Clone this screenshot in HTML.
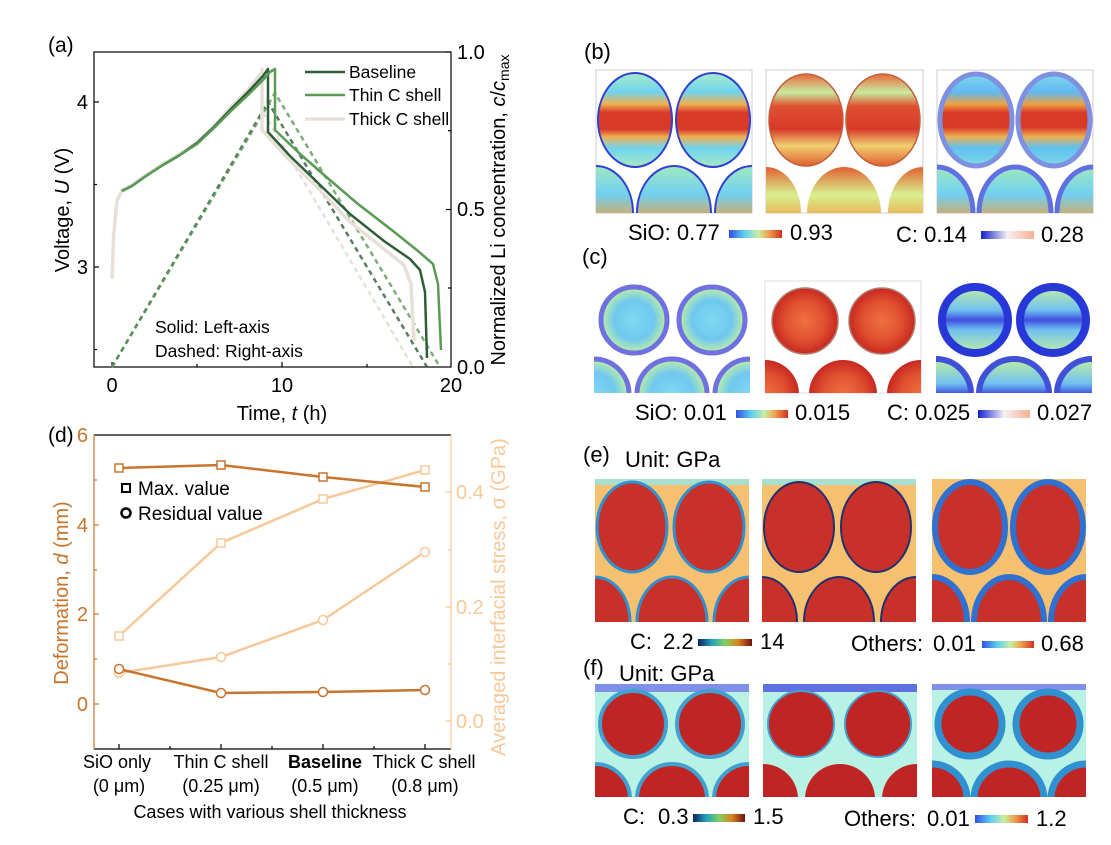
<!DOCTYPE html>
<html><head><meta charset="utf-8"><style>
html,body{margin:0;padding:0;background:#fff;}
svg{display:block;font-family:"Liberation Sans",sans-serif;}
</style></head><body>
<svg width="1111" height="845" viewBox="0 0 1111 845" xmlns="http://www.w3.org/2000/svg">
<defs>
<linearGradient id="jet" x1="0" x2="1" y1="0" y2="0">
<stop offset="0" stop-color="#3050e0"/><stop offset="0.3" stop-color="#60d0f0"/><stop offset="0.55" stop-color="#c8f0a0"/><stop offset="0.75" stop-color="#f0a050"/><stop offset="1" stop-color="#d03020"/></linearGradient>
<linearGradient id="bw" x1="0" x2="1" y1="0" y2="0">
<stop offset="0" stop-color="#1020d0"/><stop offset="0.5" stop-color="#f4f0f4"/><stop offset="1" stop-color="#f8b090"/></linearGradient>
<linearGradient id="turbo" x1="0" x2="1" y1="0" y2="0">
<stop offset="0" stop-color="#102060"/><stop offset="0.25" stop-color="#20a0c0"/><stop offset="0.5" stop-color="#80d060"/><stop offset="0.75" stop-color="#e08020"/><stop offset="1" stop-color="#701010"/></linearGradient>
<linearGradient id="gb1" x1="0" x2="0" y1="0" y2="1">
<stop offset="0" stop-color="#a8ecc8"/><stop offset="0.2" stop-color="#70d4f0"/><stop offset="0.33" stop-color="#f0b050"/><stop offset="0.42" stop-color="#d83a2a"/><stop offset="0.6" stop-color="#d83a2a"/><stop offset="0.68" stop-color="#f0b050"/><stop offset="0.8" stop-color="#70d4f0"/><stop offset="1" stop-color="#a8e8c0"/></linearGradient>
<linearGradient id="gb2" x1="0" x2="0" y1="0" y2="1">
<stop offset="0" stop-color="#e86838"/><stop offset="0.2" stop-color="#c8eca0"/><stop offset="0.35" stop-color="#e05030"/><stop offset="0.6" stop-color="#d83a2a"/><stop offset="0.78" stop-color="#f0d070"/><stop offset="1" stop-color="#e06030"/></linearGradient>
<linearGradient id="gb3" x1="0" x2="0" y1="0" y2="1">
<stop offset="0" stop-color="#80d8f0"/><stop offset="0.2" stop-color="#60b8f0"/><stop offset="0.33" stop-color="#f0a040"/><stop offset="0.42" stop-color="#d83a2a"/><stop offset="0.58" stop-color="#d83a2a"/><stop offset="0.68" stop-color="#f0b050"/><stop offset="0.8" stop-color="#60c0f0"/><stop offset="1" stop-color="#80d8e8"/></linearGradient>
<radialGradient id="gc1"><stop offset="0" stop-color="#80d8f0"/><stop offset="0.6" stop-color="#70c8f0"/><stop offset="1" stop-color="#c0f0a0"/></radialGradient>
<radialGradient id="gc2"><stop offset="0" stop-color="#f07040"/><stop offset="0.6" stop-color="#e05030"/><stop offset="1" stop-color="#c82820"/></radialGradient>
<linearGradient id="gc3" x1="0" x2="0" y1="0" y2="1"><stop offset="0" stop-color="#c0f0a0"/><stop offset="0.35" stop-color="#70c0f0"/><stop offset="0.5" stop-color="#4050e0"/><stop offset="0.65" stop-color="#70c0f0"/><stop offset="1" stop-color="#c0f0a0"/></linearGradient>
<linearGradient id="gbot" x1="0" x2="0" y1="0" y2="1"><stop offset="0" stop-color="#a0e8c0"/><stop offset="0.3" stop-color="#70d0f0"/><stop offset="0.6" stop-color="#f0a040"/><stop offset="0.8" stop-color="#d83a2a"/><stop offset="1" stop-color="#d83a2a"/></linearGradient>
<linearGradient id="gbot2" x1="0" x2="0" y1="0" y2="1"><stop offset="0" stop-color="#e06030"/><stop offset="0.3" stop-color="#d8f090"/><stop offset="0.6" stop-color="#f0a040"/><stop offset="0.8" stop-color="#d83a2a"/><stop offset="1" stop-color="#d83a2a"/></linearGradient>
</defs>

<!-- ============ Panel (a) ============ -->
<text x="48" y="52" font-size="21">(a)</text>
<g stroke="#000" stroke-width="1.2" fill="none">
<rect x="94" y="52" width="357" height="315"/>
<line x1="94" y1="102" x2="99" y2="102"/><line x1="94" y1="267" x2="99" y2="267"/>
<line x1="94" y1="184.5" x2="97" y2="184.5"/><line x1="94" y1="349.5" x2="97" y2="349.5"/>
<line x1="446" y1="52" x2="451" y2="52"/><line x1="446" y1="209.5" x2="451" y2="209.5"/>
<line x1="448" y1="130.7" x2="451" y2="130.7"/><line x1="448" y1="288" x2="451" y2="288"/>
<line x1="112" y1="367" x2="112" y2="362"/><line x1="282" y1="367" x2="282" y2="362"/>
<line x1="197" y1="367" x2="197" y2="364"/><line x1="367" y1="367" x2="367" y2="364"/>
</g>
<g font-size="20" fill="#000">
<text x="88" y="109" text-anchor="end">4</text>
<text x="88" y="274" text-anchor="end">3</text>
<text x="457" y="59">1.0</text><text x="457" y="216">0.5</text><text x="457" y="374">0.0</text>
<text x="112" y="392" text-anchor="middle">0</text>
<text x="282" y="392" text-anchor="middle">10</text>
<text x="451" y="392" text-anchor="middle">20</text>
<text x="282" y="420" text-anchor="middle">Time, <tspan font-style="italic">t</tspan> (h)</text>
<text transform="translate(69,210) rotate(-90)" text-anchor="middle">Voltage, <tspan font-style="italic">U</tspan> (V)</text>
<text transform="translate(505,210) rotate(-90)" text-anchor="middle">Normalized Li concentration, <tspan font-style="italic">c</tspan>/<tspan font-style="italic">c</tspan><tspan font-size="14" dy="4">max</tspan></text>
</g>
<g fill="none" stroke-width="2.5" stroke-dasharray="5,4">
<polyline stroke="#e8e0d8" points="112,367 263,112 413,367"/>
<polyline stroke="#2f5d3a" stroke-opacity="0.8" points="112,367 268,102 427,367"/>
<polyline stroke="#5a9a55" stroke-opacity="0.8" points="112,367 275,93 440,367"/>
</g>
<g fill="none" stroke-width="2.5" stroke-linejoin="round">
<polyline stroke="#e8e0d8" stroke-width="3.5" points="112,279 113.7,234 117,201 122,190 132,185 146,175 163,164 180,154 197,142 214,126 231,107 248,90 262,72 262,69 262,130 290,161 316,186 350,222 384,249 404,265 411,284 414,341"/>
<polyline stroke="#2f5d3a" points="122,191 132,186 146,176 163,165 180,155 197,143 214,127 231,109 248,92 263,76 268,69 268,132 290,156 316,181 350,214 384,241 410,259 420,270 425,292 427,358"/>
<polyline stroke="#5a9a55" points="122,191 132,186 146,176 163,165 180,155 197,144 214,128 231,111 248,95 263,80 270,72 275,69 275,130 299,153 324,175 358,204 393,231 418,251 433,264 438,284 441,350"/>
</g>
<line x1="305" y1="72" x2="345" y2="72" stroke="#2f5d3a" stroke-width="2.5"/>
<line x1="305" y1="95" x2="345" y2="95" stroke="#5a9a55" stroke-width="2.5"/>
<line x1="305" y1="119" x2="345" y2="119" stroke="#e8e0d8" stroke-width="3.5"/>
<g font-size="17.5"><text x="349" y="78">Baseline</text><text x="349" y="101">Thin C shell</text><text x="349" y="125">Thick C shell</text>
<text x="155" y="333">Solid: Left-axis</text><text x="155" y="357">Dashed: Right-axis</text></g>

<!-- ============ Panel (d) ============ -->
<text x="48" y="442" font-size="21">(d)</text>
<line x1="94" y1="435" x2="451" y2="435" stroke="#000" stroke-width="1.2"/>
<line x1="94" y1="749" x2="451" y2="749" stroke="#000" stroke-width="1.2"/>
<g stroke="#c8742c" stroke-width="1.2"><line x1="94" y1="435" x2="94" y2="749"/>
<line x1="94" y1="525" x2="99" y2="525"/><line x1="94" y1="614" x2="99" y2="614"/><line x1="94" y1="704" x2="99" y2="704"/>
<line x1="94" y1="480" x2="97" y2="480"/><line x1="94" y1="570" x2="97" y2="570"/><line x1="94" y1="659" x2="97" y2="659"/></g>
<g stroke="#f8c898" stroke-width="1.2"><line x1="451" y1="435" x2="451" y2="749"/>
<line x1="446" y1="492" x2="451" y2="492"/><line x1="446" y1="607" x2="451" y2="607"/><line x1="446" y1="721" x2="451" y2="721"/>
<line x1="448" y1="550" x2="451" y2="550"/><line x1="448" y1="664" x2="451" y2="664"/></g>
<g stroke="#000" stroke-width="1.2"><line x1="119" y1="749" x2="119" y2="744"/><line x1="221" y1="749" x2="221" y2="744"/><line x1="323" y1="749" x2="323" y2="744"/><line x1="425" y1="749" x2="425" y2="744"/>
<line x1="170" y1="749" x2="170" y2="746"/><line x1="272" y1="749" x2="272" y2="746"/><line x1="374" y1="749" x2="374" y2="746"/></g>
<g font-size="20" fill="#c8742c">
<text x="88" y="442" text-anchor="end">6</text><text x="88" y="532" text-anchor="end">4</text>
<text x="88" y="621" text-anchor="end">2</text><text x="88" y="711" text-anchor="end">0</text>
<text transform="translate(68,593) rotate(-90)" text-anchor="middle">Deformation, <tspan font-style="italic">d</tspan> (mm)</text>
</g>
<g font-size="20" fill="#f8c898">
<text x="456" y="499">0.4</text><text x="456" y="614">0.2</text><text x="456" y="728">0.0</text>
<text transform="translate(505,597) rotate(-90)" text-anchor="middle">Averaged interfacial stress, σ (GPa)</text>
</g>
<g fill="none" stroke-width="2.5">
<polyline stroke="#f8c898" points="119,636 221,543 323,499 425,470"/>
<polyline stroke="#f8c898" points="119,673 221,657 323,620 425,552"/>
<polyline stroke="#c8742c" points="119,468 221,465 323,477 425,487"/>
<polyline stroke="#c8742c" points="119,669 221,693 323,692 425,690"/>
</g>
<g fill="#fff" stroke-width="1.5">
<g stroke="#f8c898"><rect x="115" y="632" width="8" height="8"/><rect x="217" y="539" width="8" height="8"/><rect x="319" y="495" width="8" height="8"/><rect x="421" y="466" width="8" height="8"/>
<circle cx="119" cy="673" r="4.5"/><circle cx="221" cy="657" r="4.5"/><circle cx="323" cy="620" r="4.5"/><circle cx="425" cy="552" r="4.5"/></g>
<g stroke="#c8742c"><rect x="115" y="464" width="8" height="8"/><rect x="217" y="461" width="8" height="8"/><rect x="319" y="473" width="8" height="8"/><rect x="421" y="483" width="8" height="8"/>
<circle cx="119" cy="669" r="4.5"/><circle cx="221" cy="693" r="4.5"/><circle cx="323" cy="692" r="4.5"/><circle cx="425" cy="690" r="4.5"/></g>
</g>
<rect x="122" y="484" width="8" height="8" fill="#fff" stroke="#000" stroke-width="2"/>
<circle cx="126" cy="513" r="4.5" fill="#fff" stroke="#000" stroke-width="2.5"/>
<g font-size="19"><text x="138" y="495">Max. value</text><text x="138" y="520">Residual value</text></g>
<g font-size="18" text-anchor="middle">
<text x="117" y="768">SiO only</text><text x="119" y="792">(0 μm)</text>
<text x="221" y="768">Thin C shell</text><text x="221" y="792">(0.25 μm)</text>
<text x="325" y="768" font-weight="bold">Baseline</text><text x="325" y="792">(0.5 μm)</text>
<text x="424" y="768">Thick C shell</text><text x="425" y="792">(0.8 μm)</text>
<text x="270" y="818">Cases with various shell thickness</text>
</g>

<!-- ============ Panel (b) ============ -->
<text x="584" y="59" font-size="22">(b)</text>
<g transform="translate(596,70)">
<rect width="156" height="143" fill="#fff" stroke="#ccc"/>
<ellipse cx="39" cy="50" rx="37" ry="47" fill="url(#gb1)" stroke="#3040d0" stroke-width="2"/>
<ellipse cx="117" cy="50" rx="37" ry="47" fill="url(#gb1)" stroke="#3040d0" stroke-width="2"/>
<svg width="156" height="143"><ellipse cx="0" cy="143" rx="37" ry="47" fill="url(#gbot)" stroke="#3040d0" stroke-width="2"/><ellipse cx="78" cy="143" rx="37" ry="47" fill="url(#gbot)" stroke="#3040d0" stroke-width="2"/><ellipse cx="156" cy="143" rx="37" ry="47" fill="url(#gbot)" stroke="#3040d0" stroke-width="2"/></svg>
</g>
<g transform="translate(766,70)">
<rect width="157" height="143" fill="#fff" stroke="#ccc"/>
<ellipse cx="40" cy="50" rx="37" ry="46" fill="url(#gb2)" stroke="#c06040" stroke-width="1.5"/>
<ellipse cx="117" cy="50" rx="37" ry="46" fill="url(#gb2)" stroke="#c06040" stroke-width="1.5"/>
<svg width="157" height="143"><ellipse cx="0" cy="143" rx="35" ry="46" fill="url(#gbot2)"/><ellipse cx="78" cy="143" rx="37" ry="46" fill="url(#gbot2)"/><ellipse cx="157" cy="143" rx="35" ry="46" fill="url(#gbot2)"/></svg>
</g>
<g transform="translate(937,70)">
<rect width="156" height="143" fill="#fff" stroke="#ccc"/>
<ellipse cx="39" cy="50" rx="36" ry="46" fill="url(#gb3)" stroke="#8090e0" stroke-width="5"/>
<ellipse cx="117" cy="50" rx="36" ry="46" fill="url(#gb3)" stroke="#8090e0" stroke-width="5"/>
<svg width="156" height="143"><ellipse cx="0" cy="143" rx="36" ry="46" fill="url(#gbot)" stroke="#6070e0" stroke-width="5"/><ellipse cx="78" cy="143" rx="36" ry="46" fill="url(#gbot)" stroke="#6070e0" stroke-width="5"/><ellipse cx="156" cy="143" rx="36" ry="46" fill="url(#gbot)" stroke="#6070e0" stroke-width="5"/></svg>
</g>
<g font-size="22">
<text x="628" y="240">SiO: 0.77</text><rect x="729" y="230" width="53" height="8" fill="url(#jet)"/><text x="790" y="240">0.93</text>
<text x="896" y="242">C: 0.14</text><rect x="981" y="231" width="53" height="8" fill="url(#bw)"/><text x="1041" y="242">0.28</text>
</g>

<!-- ============ Panel (c) ============ -->
<text x="582" y="264" font-size="22">(c)</text>
<g transform="translate(594,281)">
<rect width="156" height="112" fill="#fff"/>
<circle cx="40" cy="39" r="33" fill="url(#gc1)" stroke="#7070e0" stroke-width="5"/>
<circle cx="118" cy="39" r="33" fill="url(#gc1)" stroke="#7070e0" stroke-width="5"/>
<svg width="156" height="112"><circle cx="0" cy="113" r="35" fill="url(#gc1)" stroke="#7070e0" stroke-width="5"/><circle cx="78" cy="113" r="35" fill="url(#gc1)" stroke="#7070e0" stroke-width="5"/><circle cx="156" cy="113" r="35" fill="url(#gc1)" stroke="#7070e0" stroke-width="5"/></svg>
</g>
<g transform="translate(765,281)">
<rect width="156" height="112" fill="#fff" stroke="#ddd"/>
<circle cx="40" cy="40" r="33" fill="url(#gc2)" stroke="#b08070" stroke-width="1.5"/>
<circle cx="117" cy="40" r="33" fill="url(#gc2)" stroke="#b08070" stroke-width="1.5"/>
<svg width="156" height="112"><circle cx="0" cy="113" r="34" fill="url(#gc2)"/><circle cx="78" cy="113" r="34" fill="url(#gc2)"/><circle cx="156" cy="113" r="34" fill="url(#gc2)"/></svg>
</g>
<g transform="translate(936,281)">
<rect width="156" height="112" fill="#fff"/>
<circle cx="39" cy="39" r="33" fill="url(#gc3)" stroke="#2838d8" stroke-width="8"/>
<circle cx="117" cy="39" r="33" fill="url(#gc3)" stroke="#2838d8" stroke-width="8"/>
<svg width="156" height="112"><circle cx="0" cy="113" r="35" fill="url(#gc3)" stroke="#4050d8" stroke-width="6"/><circle cx="78" cy="113" r="35" fill="url(#gc3)" stroke="#4050d8" stroke-width="6"/><circle cx="156" cy="113" r="35" fill="url(#gc3)" stroke="#4050d8" stroke-width="6"/></svg>
</g>
<g font-size="22">
<text x="635" y="420">SiO: 0.01</text><rect x="736" y="410" width="52" height="8" fill="url(#jet)"/><text x="795" y="420">0.015</text>
<text x="887" y="420">C: 0.025</text><rect x="978" y="410" width="52" height="8" fill="url(#bw)"/><text x="1037" y="420">0.027</text>
</g>

<!-- ============ Panel (e) ============ -->
<text x="583" y="462" font-size="22">(e)</text>
<text x="625" y="467" font-size="22">Unit: GPa</text>
<g transform="translate(595,479)">
<rect width="154" height="143" fill="#f5c070"/><rect width="154" height="6" fill="#a8e0d0"/>
<ellipse cx="37" cy="48" rx="35" ry="45" fill="#c8302a" stroke="#3090d0" stroke-width="3"/>
<ellipse cx="114" cy="48" rx="35" ry="45" fill="#c8302a" stroke="#3090d0" stroke-width="3"/>
<svg width="154" height="143"><ellipse cx="0" cy="143" rx="35" ry="45" fill="#c8302a" stroke="#3090d0" stroke-width="3"/><ellipse cx="77" cy="143" rx="35" ry="45" fill="#c8302a" stroke="#3090d0" stroke-width="3"/><ellipse cx="154" cy="143" rx="35" ry="45" fill="#c8302a" stroke="#3090d0" stroke-width="3"/></svg>
</g>
<g transform="translate(762,479)">
<rect width="154" height="143" fill="#f5c070"/><rect width="154" height="6" fill="#a8e0d0"/>
<ellipse cx="37" cy="48" rx="35" ry="45" fill="#c8302a" stroke="#203070" stroke-width="2"/>
<ellipse cx="114" cy="48" rx="35" ry="45" fill="#c8302a" stroke="#203070" stroke-width="2"/>
<svg width="154" height="143"><ellipse cx="0" cy="143" rx="35" ry="45" fill="#c8302a" stroke="#203070" stroke-width="2"/><ellipse cx="77" cy="143" rx="35" ry="45" fill="#c8302a" stroke="#203070" stroke-width="2"/><ellipse cx="154" cy="143" rx="35" ry="45" fill="#c8302a" stroke="#203070" stroke-width="2"/></svg>
</g>
<g transform="translate(932,479)">
<rect width="154" height="143" fill="#f5c070"/>
<ellipse cx="38" cy="48" rx="35" ry="45" fill="#c8302a" stroke="#3070d0" stroke-width="6"/>
<ellipse cx="116" cy="48" rx="35" ry="45" fill="#c8302a" stroke="#3070d0" stroke-width="6"/>
<svg width="154" height="143"><ellipse cx="0" cy="143" rx="35" ry="45" fill="#c8302a" stroke="#3070d0" stroke-width="6"/><ellipse cx="77" cy="143" rx="35" ry="45" fill="#c8302a" stroke="#3070d0" stroke-width="6"/><ellipse cx="154" cy="143" rx="35" ry="45" fill="#c8302a" stroke="#3070d0" stroke-width="6"/></svg>
</g>
<g font-size="22">
<text x="630" y="649">C:</text><text x="663" y="649">2.2</text><rect x="698" y="639" width="54" height="7" fill="url(#turbo)"/><text x="760" y="649">14</text>
<text x="851" y="651">Others:</text><text x="933" y="651">0.01</text><rect x="982" y="641" width="52" height="7" fill="url(#jet)"/><text x="1041" y="651">0.68</text>
</g>

<!-- ============ Panel (f) ============ -->
<text x="583" y="675" font-size="22">(f)</text>
<text x="619" y="681" font-size="22">Unit: GPa</text>
<g transform="translate(595,684)">
<rect width="154" height="113" fill="#b8f2e4"/><rect width="154" height="8" fill="#8090e8"/>
<circle cx="38" cy="40" r="33" fill="#c02525" stroke="#40a0d0" stroke-width="4"/>
<circle cx="115" cy="40" r="33" fill="#c02525" stroke="#40a0d0" stroke-width="4"/>
<svg width="154" height="113"><circle cx="0" cy="115" r="35" fill="#c02525" stroke="#40a0d0" stroke-width="4"/><circle cx="77" cy="115" r="35" fill="#c02525" stroke="#40a0d0" stroke-width="4"/><circle cx="154" cy="115" r="35" fill="#c02525" stroke="#40a0d0" stroke-width="4"/></svg>
</g>
<g transform="translate(763,684)">
<rect width="154" height="113" fill="#b8f2e4"/><rect width="154" height="8" fill="#6070e0"/>
<circle cx="38" cy="40" r="33" fill="#c02525" stroke="#40a0d0" stroke-width="2"/>
<circle cx="115" cy="40" r="33" fill="#c02525" stroke="#40a0d0" stroke-width="2"/>
<svg width="154" height="113"><circle cx="0" cy="115" r="35" fill="#c02525"/><circle cx="77" cy="115" r="35" fill="#c02525"/><circle cx="154" cy="115" r="35" fill="#c02525"/></svg>
</g>
<g transform="translate(932,684)">
<rect width="154" height="113" fill="#b8f2e4"/><rect width="154" height="6" fill="#8090e8"/>
<circle cx="38" cy="40" r="32" fill="#c02525" stroke="#3090d0" stroke-width="7"/>
<circle cx="116" cy="40" r="32" fill="#c02525" stroke="#3090d0" stroke-width="7"/>
<svg width="154" height="113"><circle cx="0" cy="115" r="35" fill="#c02525" stroke="#3090d0" stroke-width="7"/><circle cx="77" cy="115" r="35" fill="#c02525" stroke="#3090d0" stroke-width="7"/><circle cx="154" cy="115" r="35" fill="#c02525" stroke="#3090d0" stroke-width="7"/></svg>
</g>
<g font-size="22">
<text x="623" y="824">C:</text><text x="658" y="824">0.3</text><rect x="693" y="814" width="52" height="8" fill="url(#turbo)"/><text x="753" y="824">1.5</text>
<text x="844" y="826">Others:</text><text x="927" y="826">0.01</text><rect x="975" y="815" width="53" height="8" fill="url(#jet)"/><text x="1036" y="826">1.2</text>
</g>
</svg>
</body></html>
